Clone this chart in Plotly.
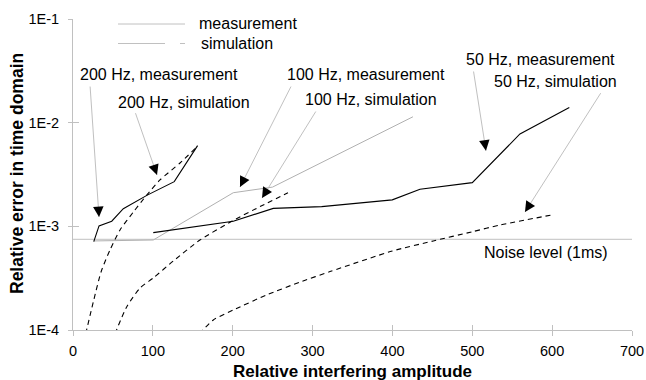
import math
import plotly.graph_objects as go

# ---------------- data ----------------
x_ticks = [0, 100, 200, 300, 400, 500, 600, 700]
y_ticks = [1e-4, 1e-3, 1e-2, 1e-1]
y_ticktext = ["1E-4", "1E-3", "1E-2", "1E-1"]

meas200_x = [26, 32.6, 48.5, 63, 93, 126.8, 156]
meas200_y = [7.11e-4, 1.01e-3, 1.12e-3, 1.48e-3, 2.0e-3, 2.70e-3, 6.0e-3]

meas100_x = [26, 100.5, 200.7, 249.8, 425.7]
meas100_y = [7.23e-4, 7.38e-4, 2.11e-3, 2.39e-3, 1.14e-2]

meas50_x = [100.5, 200.7, 250.8, 311.4, 399.8, 434.5, 500, 559.7, 621.5]
meas50_y = [8.69e-4, 1.12e-3, 1.49e-3, 1.55e-3, 1.80e-3, 2.28e-3, 2.64e-3, 7.78e-3, 1.40e-2]

sim200_x = [15.9, 25.4, 35.1, 46.3, 58.9, 75.5, 92.3, 108.9, 134, 154.9]
sim200_y = [9.2e-5, 1.86e-4, 3.63e-4, 5.92e-4, 9.23e-4, 1.37e-3, 2.0e-3, 2.8e-3, 4.08e-3, 5.82e-3]

sim100_x = [52.6, 67.2, 83.9, 100.6, 125.6, 159, 200.7, 234.2, 269.2]
sim100_y = [9.2e-5, 1.67e-4, 2.54e-4, 3.18e-4, 4.63e-4, 7.38e-4, 1.14e-3, 1.55e-3, 2.11e-3]

sim50_x = [158.2, 175.7, 200.7, 242.5, 284.2, 321.8, 399.8, 451.2, 500, 534.7, 600.2]
sim50_y = [9.2e-5, 1.25e-4, 1.56e-4, 2.18e-4, 2.9e-4, 3.66e-4, 5.78e-4, 7.23e-4, 8.87e-4, 1.03e-3, 1.29e-3]

noise_x = [0, 700]
noise_y = [7.5e-4, 7.5e-4]

# annotation labels: (text, x, log10 y of text centre, tail x, tail log y, tip x, tip log y)
labels = [
    ("200 Hz, measurement", 107.7, -1.540, 21.3, -1.637, 32.6, -2.910),
    ("200 Hz, simulation", 139.0, -1.807, 77.6, -1.894, 105.2, -2.505),
    ("100 Hz, measurement", 366.9, -1.540, 273.9, -1.637, 209.1, -2.621),
    ("100 Hz, simulation", 373.2, -1.781, 305.2, -1.878, 236.7, -2.727),
    ("50 Hz, measurement", 585.2, -1.395, 501.3, -1.492, 517.1, -2.270),
    ("50 Hz, simulation", 604.2, -1.605, 662.0, -1.701, 566.0, -2.862),
]

# ---------------- figure ----------------
W, H = 646, 380
ML, MR, MT, MB = 73, 14, 19, 50
PW, PH = W - ML - MR, H - MT - MB
SX = PW / 700.0
SY = PH / 3.0

BLACK = "#000000"
GRAY = "#c0c0c0"
MGRAY = "#b0b0b0"
FONT = "Liberation Sans, Arial, sans-serif"

fig = go.Figure()

fig.add_trace(go.Scatter(x=noise_x, y=noise_y, mode="lines",
                         line=dict(color=GRAY, width=1), hoverinfo="skip"))
fig.add_trace(go.Scatter(x=meas100_x, y=meas100_y, mode="lines",
                         line=dict(color=MGRAY, width=1), hoverinfo="skip"))
for xs, ys in [(sim200_x, sim200_y), (sim100_x, sim100_y), (sim50_x, sim50_y)]:
    fig.add_trace(go.Scatter(x=xs, y=ys, mode="lines",
                             line=dict(color=BLACK, width=1.1, dash="5px,4px", shape="spline", smoothing=0.6),
                             hoverinfo="skip"))
for xs, ys in [(meas200_x, meas200_y), (meas50_x, meas50_y)]:
    fig.add_trace(go.Scatter(x=xs, y=ys, mode="lines",
                             line=dict(color=BLACK, width=1.1), hoverinfo="skip"))

# dummy trace on overlay axes to draw inside tick halves
fig.add_trace(go.Scatter(x=[None], y=[None], xaxis="x2", yaxis="y2", showlegend=False, hoverinfo="skip"))

annotations = []
for text, lx, ly, tx, ty, hx, hy in labels:
    annotations.append(dict(text=text, x=lx, y=ly, xref="x", yref="y", showarrow=False,
                            font=dict(size=16, color="black", family=FONT), xanchor="center", yanchor="middle"))
    # gray leader line
    annotations.append(dict(text="", x=hx, y=hy, xref="x", yref="y", ax=tx, ay=ty, axref="x", ayref="y",
                            showarrow=True, arrowhead=0, arrowwidth=1, arrowcolor=GRAY))
    # black arrowhead
    dxp = (hx - tx) * SX
    dyp = (ty - hy) * SY
    ln = math.hypot(dxp, dyp)
    ux, uy = dxp / ln, dyp / ln
    L = 11
    annotations.append(dict(text="", x=hx, y=hy, xref="x", yref="y", ax=-ux * L, ay=-uy * L,
                            showarrow=True, arrowhead=2, arrowsize=2.1, arrowwidth=1, arrowcolor=BLACK))

annotations.append(dict(text="Noise level (1ms)", x=591.9, y=-3.254, xref="x", yref="y", showarrow=False,
                        font=dict(size=16, color="black", family=FONT)))

# legend (drawn manually)
def px2paper_x(px):
    return (px - ML) / PW

def py2paper_y(py):
    return 1 - (py - MT) / PH

shapes = [
    dict(type="line", xref="paper", yref="paper", x0=px2paper_x(118), x1=px2paper_x(185),
         y0=py2paper_y(24), y1=py2paper_y(24), line=dict(color=GRAY, width=1)),
    dict(type="line", xref="paper", yref="paper", x0=px2paper_x(118), x1=px2paper_x(185),
         y0=py2paper_y(43.5), y1=py2paper_y(43.5), line=dict(color=GRAY, width=1, dash="47px,15px")),
]
annotations.append(dict(text="measurement", x=px2paper_x(197), y=py2paper_y(24), xref="paper", yref="paper",
                        showarrow=False, xanchor="left", yanchor="middle",
                        font=dict(size=16, color="black", family=FONT)))
annotations.append(dict(text="simulation", x=px2paper_x(199), y=py2paper_y(44), xref="paper", yref="paper",
                        showarrow=False, xanchor="left", yanchor="middle",
                        font=dict(size=16, color="black", family=FONT)))

# axis titles
annotations.append(dict(text="<b>Relative error in time domain</b>", x=px2paper_x(17), y=py2paper_y(174),
                        xref="paper", yref="paper", showarrow=False, textangle=-90,
                        xanchor="center", yanchor="middle",
                        font=dict(size=17.5, color="black", family=FONT)))
annotations.append(dict(text="<b>Relative interfering amplitude</b>", x=px2paper_x(352), y=py2paper_y(371),
                        xref="paper", yref="paper", showarrow=False, borderpad=0,
                        xanchor="center", yanchor="middle",
                        font=dict(size=17, color="black", family=FONT)))

fig.update_layout(
    width=W, height=H, autosize=False,
    margin=dict(l=ML, r=MR, t=MT, b=MB, pad=0, autoexpand=False),
    plot_bgcolor="white", paper_bgcolor="white",
    showlegend=False,
    font=dict(family=FONT, size=14, color="black"),
    xaxis=dict(range=[0, 700], tickvals=x_ticks, showline=True, linecolor=GRAY, linewidth=1,
               ticks="outside", ticklen=5, tickcolor=GRAY, tickwidth=1, showgrid=False, zeroline=False,
               tickfont=dict(size=14.5, color="black"), ticklabelstandoff=3, automargin=False),
    yaxis=dict(type="log", range=[-4, -1], tickvals=y_ticks, ticktext=y_ticktext, showline=True,
               linecolor=GRAY, linewidth=1, ticks="outside", ticklen=4, tickcolor=GRAY, tickwidth=1,
               showgrid=False, zeroline=False, tickfont=dict(size=14.5, color="black"),
               ticklabelstandoff=6, automargin=False),
    xaxis2=dict(range=[0, 700], tickvals=x_ticks, overlaying="x", anchor="y2", side="bottom",
                ticks="inside", ticklen=5, tickcolor=GRAY, showticklabels=False, showline=False,
                showgrid=False, zeroline=False, automargin=False),
    yaxis2=dict(type="log", range=[-4, -1], tickvals=y_ticks, overlaying="y", anchor="x2", side="left",
                ticks="inside", ticklen=6, tickcolor=GRAY, showticklabels=False, showline=False,
                showgrid=False, zeroline=False, automargin=False),
    annotations=annotations,
    shapes=shapes,
)

fig.write_html("out.html", config={"displayModeBar": False, "responsive": False},
               post_script="document.body.style.margin='0';document.body.style.padding='0';"
                           "document.body.style.overflow='hidden';"
                           "document.documentElement.style.overflow='hidden';")
